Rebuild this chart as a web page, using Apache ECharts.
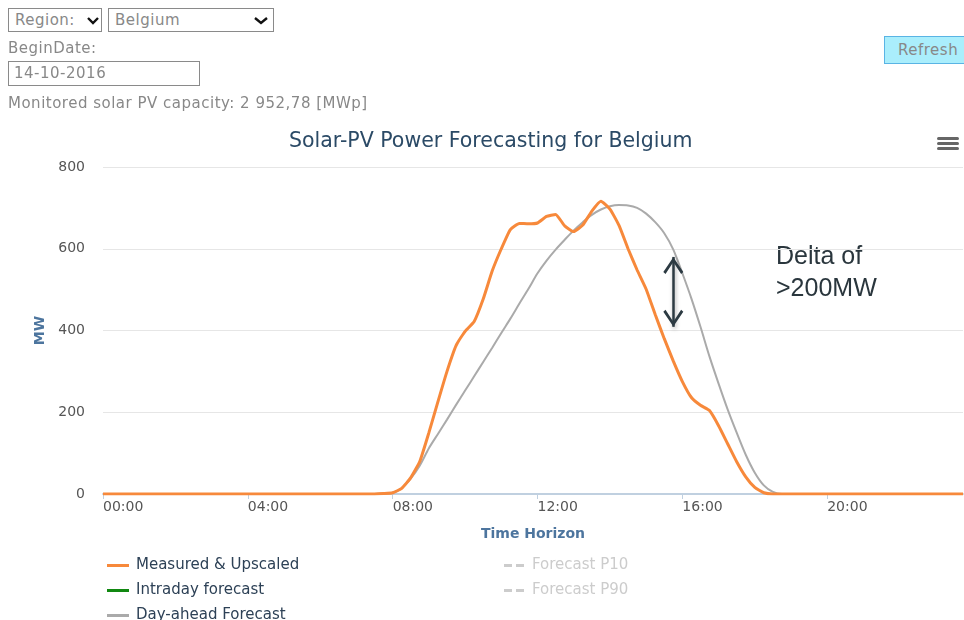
<!DOCTYPE html>
<html>
<head>
<meta charset="utf-8">
<title>Solar-PV Power Forecasting for Belgium</title>
<script src="https://cdn.jsdelivr.net/npm/echarts@6/dist/echarts.min.js"></script>
<style>
  body {
    margin: 0;
    background: #fff;
    font-family: "DejaVu Sans", Verdana, sans-serif;
  }
  #chart {
    position: absolute;
    left: 0;
    top: 0;
    width: 964px;
    height: 620px;
  }
  .ctl {
    position: absolute;
    z-index: 2;
    font-size: 15px;
    letter-spacing: 0.5px;
    color: #888;
    white-space: nowrap;
  }
  .box {
    border: 1px solid #8a8a8a;
    box-sizing: border-box;
    background: #fff;
    line-height: 22px;
    padding-left: 6px;
  }
  .box svg {
    position: absolute;
    top: 7px;
  }
  #refresh {
    background: #aaeefc;
    border: 1px solid #5ab4e4;
    box-sizing: border-box;
    line-height: 26px;
    padding-left: 13px;
  }
</style>
</head>
<body>
<div class="ctl box" style="left:8px;top:8px;width:94px;height:24px;">Region:
  <svg style="left:77px" width="14" height="10"><polyline points="2,2 7,7 12,2" fill="none" stroke="#111" stroke-width="2.4"/></svg>
</div>
<div class="ctl box" style="left:108px;top:8px;width:166px;height:24px;">Belgium
  <svg style="left:144px" width="16" height="10"><polyline points="2,2 8,7 14,2" fill="none" stroke="#111" stroke-width="2.4"/></svg>
</div>
<div class="ctl" style="left:8px;top:39px;">BeginDate:</div>
<div class="ctl box" style="left:8px;top:61px;width:192px;height:25px;padding-left:5px;">14-10-2016</div>
<div class="ctl" style="left:8px;top:94px;">Monitored solar PV capacity: 2 952,78 [MWp]</div>
<div class="ctl" id="refresh" style="left:884px;top:36px;width:84px;height:28px;">Refresh</div>
<div id="chart"></div>
<script>
// 15-minute slots of the day, 00:00 .. 23:45
var timeSlots = []
for (var h = 0; h < 24; h++) {
  for (var m = 0; m < 60; m += 15) {
    timeSlots.push((h < 10 ? '0' : '') + h + ':' + (m < 10 ? '0' : '') + m)
  }
}

var yTicks = [0, 200, 400, 600, 800]

var measured = [
  0, 0, 0, 0, 0, 0, 0, 0, 0, 0, 0, 0, 0, 0, 0, 0,
  0, 0, 0, 0, 0, 0, 0, 0, 0, 0, 0, 0, 0, 0, 0, 1,
  3, 14, 40, 80, 150, 226, 300, 363, 398, 422, 477, 546, 600, 647, 662, 661,
  663, 679, 684, 656, 642, 658, 692, 716, 697, 657, 600, 548, 501, 439, 380, 325,
  275, 236, 217, 204, 167, 123, 79, 42, 16, 3, 0, 0, 0, 0, 0, 0,
  0, 0, 0, 0, 0, 0, 0, 0, 0, 0, 0, 0, 0, 0, 0, 0
]

var intraday = []

var dayAhead = [
  0, 0, 0, 0, 0, 0, 0, 0, 0, 0, 0, 0, 0, 0, 0, 0,
  0, 0, 0, 0, 0, 0, 0, 0, 0, 0, 0, 0, 0, 0, 0, 1,
  3, 14, 38, 70, 112, 147, 182, 218, 253, 288, 323, 358, 394, 429, 466, 502,
  540, 571, 598, 622, 645, 665, 683, 696, 704, 707, 706, 700, 686, 665, 638, 598,
  540, 478, 409, 336, 270, 207, 150, 96, 52, 21, 5, 0, 0, 0, 0, 0,
  0, 0, 0, 0, 0, 0, 0, 0, 0, 0, 0, 0, 0, 0, 0, 0
]

var forecastP10 = []
var forecastP90 = []

// the annotated gap between day-ahead and measured
var deltaSlot = '15:45'
var deltaTop = 580
var deltaBottom = 409

var chevron = 'path://M10,-17.5L10.01,-17.5L10,-17.49Z M10,0L20,15L17.8,17L10,4.8L2.2,17L0,15Z'
// legend icons, drawn in a 22x14 box
var solidIcon = 'path://M0,0L0.01,0L0,0.01Z M0,5.5H22V8.5H0Z M22,14L21.99,14L22,13.99Z'
var dashIcon = 'path://M0,0L0.01,0L0,0.01Z M1,5.5H9V8.5H1Z M13,5.5H21V8.5H13Z M22,14L21.99,14L22,13.99Z'

var legendText = { color: '#2d4156', fontSize: 15, lineHeight: 14, padding: [0, 0, 0, 2] }

var option = {
  textStyle: { fontFamily: 'DejaVu Sans' },
  animation: false,
  title: {
    text: 'Solar-PV Power Forecasting for Belgium',
    left: 289,
    top: 131,
    padding: 0,
    textStyle: { color: '#2b4a66', fontSize: 20.5, fontWeight: 'normal' }
  },
  grid: { left: 103, right: 1, top: 167, bottom: 126 },
  legend: [
    {
      orient: 'vertical',
      left: 107,
      top: 558,
      height: 90,
      padding: 0,
      itemWidth: 22,
      itemHeight: 14,
      itemGap: 10,
      data: [
        { name: 'Measured & Upscaled', icon: solidIcon },
        { name: 'Intraday forecast', icon: solidIcon },
        { name: 'Day-ahead Forecast', icon: solidIcon }
      ],
      textStyle: legendText,
      inactiveColor: '#cccccc'
    },
    {
      orient: 'vertical',
      left: 503,
      top: 558,
      height: 90,
      padding: 0,
      itemWidth: 22,
      itemHeight: 14,
      itemGap: 10,
      data: [
        { name: 'Forecast P10', icon: dashIcon },
        { name: 'Forecast P90', icon: dashIcon }
      ],
      selected: { 'Forecast P10': false, 'Forecast P90': false },
      textStyle: legendText,
      inactiveColor: '#cccccc'
    }
  ],
  xAxis: {
    type: 'category',
    data: timeSlots,
    boundaryGap: false,
    name: 'Time Horizon',
    nameLocation: 'middle',
    nameGap: 33,
    nameTextStyle: { color: '#4d759e', fontWeight: 'bold', fontSize: 14 },
    axisLine: { lineStyle: { color: '#c0d0e0', width: 2 } },
    axisTick: { interval: 15, length: 5, lineStyle: { color: '#c0d0e0' } },
    axisLabel: {
      interval: 15,
      align: 'left',
      margin: 6,
      color: '#555',
      fontSize: 14
    },
    splitLine: { show: false }
  },
  yAxis: {
    type: 'value',
    min: yTicks[0],
    max: yTicks[yTicks.length - 1],
    interval: yTicks[1] - yTicks[0],
    name: 'MW',
    nameLocation: 'middle',
    nameRotate: 90,
    nameGap: 55,
    nameTextStyle: { color: '#4d759e', fontWeight: 'bold', fontSize: 14 },
    axisLine: { show: false },
    axisTick: { show: false },
    axisLabel: { margin: 18, color: '#555', fontSize: 14 },
    splitLine: { lineStyle: { color: '#e6e6e6' } }
  },
  series: [
    {
      name: 'Day-ahead Forecast',
      type: 'line',
      data: dayAhead,
      symbol: 'none',
      smooth: 0.3,
      z: 2,
      color: '#aaaaaa',
      lineStyle: { width: 2 },
      markLine: {
        silent: true,
        symbol: [chevron, chevron],
        symbolSize: [20, 34],
        label: { show: false },
        lineStyle: {
          color: '#2c3a42',
          width: 2.5,
          type: 'solid',
          shadowBlur: 4,
          shadowColor: 'rgba(0,0,0,0.35)',
          shadowOffsetX: 1,
          shadowOffsetY: 2
        },
        data: [[{ coord: [deltaSlot, deltaTop] }, { coord: [deltaSlot, deltaBottom] }]]
      }
    },
    {
      name: 'Intraday forecast',
      type: 'line',
      data: intraday,
      symbol: 'none',
      color: '#118811',
      lineStyle: { width: 2 }
    },
    {
      name: 'Forecast P10',
      type: 'line',
      data: forecastP10,
      symbol: 'none',
      color: '#999',
      lineStyle: { width: 2, type: 'dashed' }
    },
    {
      name: 'Forecast P90',
      type: 'line',
      data: forecastP90,
      symbol: 'none',
      color: '#999',
      lineStyle: { width: 2, type: 'dashed' }
    },
    {
      name: 'Measured & Upscaled',
      type: 'line',
      data: measured,
      symbol: 'none',
      smooth: 0.15,
      z: 3,
      color: '#f7893b',
      lineStyle: { width: 3 }
    }
  ],
  graphic: [
    {
      type: 'text',
      left: 776,
      top: 241,
      style: {
        text: 'Delta of\n>200MW',
        font: '25px "Liberation Sans", Arial, sans-serif',
        lineHeight: 32,
        fill: '#2a363d'
      }
    },
    // menu icon
    { type: 'rect', left: 937, top: 137, shape: { width: 22, height: 3, r: 1.5 }, style: { fill: '#666' } },
    { type: 'rect', left: 937, top: 142, shape: { width: 22, height: 3, r: 1.5 }, style: { fill: '#666' } },
    { type: 'rect', left: 937, top: 147, shape: { width: 22, height: 3, r: 1.5 }, style: { fill: '#666' } }
  ]
}

var chart = echarts.init(document.getElementById('chart'))
chart.setOption(option)
</script>
</body>
</html>
